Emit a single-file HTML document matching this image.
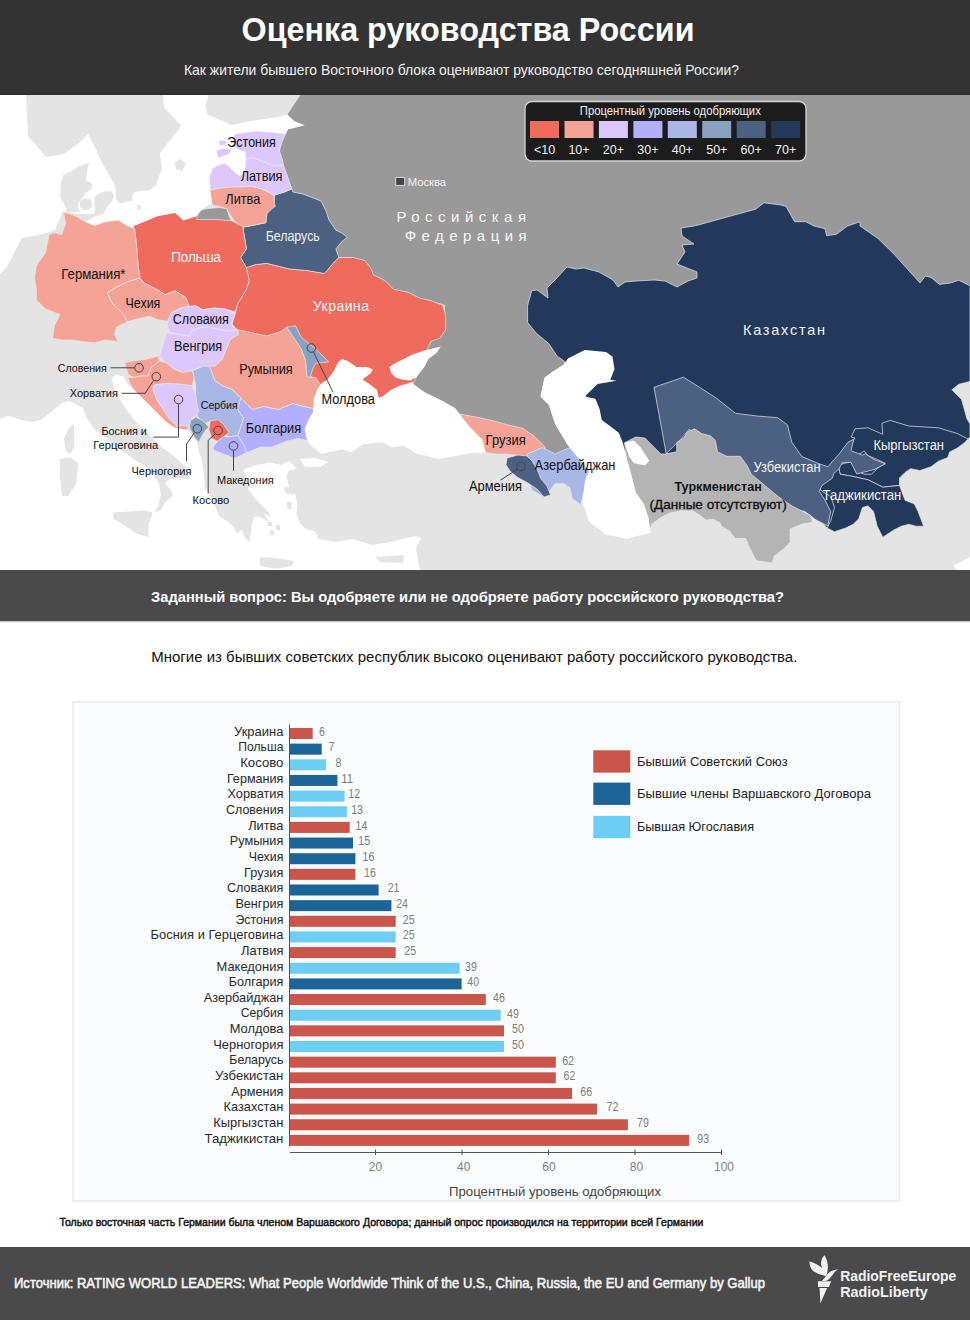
<!DOCTYPE html>
<html><head><meta charset="utf-8"><title>Оценка руководства России</title>
<style>
html,body{margin:0;padding:0;background:#fff;width:970px;height:1320px;overflow:hidden}
svg{display:block}
text{font-family:"Liberation Sans",sans-serif}
</style></head><body>
<svg width="970" height="1320" viewBox="0 0 970 1320">
<rect x="0" y="0" width="970" height="95" fill="#333333"/>
<rect x="0" y="93.5" width="970" height="1.5" fill="#2e2e2e"/>
<text x="241.5" y="40.5" font-family="Liberation Sans" font-size="32.3" fill="#ffffff" font-weight="bold" textLength="453" lengthAdjust="spacingAndGlyphs">Оценка руководства России</text>
<text x="184" y="75" font-family="Liberation Sans" font-size="14.8" fill="#f0f0f0" textLength="555" lengthAdjust="spacingAndGlyphs">Как жители бывшего Восточного блока оценивают руководство сегодняшней России?</text>
<rect x="0" y="95" width="970" height="475" fill="#e4e4e4"/>
<polygon points="300.5,95.0 970.0,95.0 970.0,330.0 560.0,330.0 575.0,455.0 540.0,455.0 460.0,416.0 410.0,392.0 418.0,350.0 445.0,330.0 445.0,305.0 431.0,300.8 419.6,298.0 408.0,292.2 393.6,289.3 385.0,280.6 373.4,274.8 370.5,267.6 364.8,260.4 353.2,257.5 338.8,257.5 335.9,248.9 341.7,241.7 347.4,237.3 341.7,233.0 335.9,230.1 329.0,220.0 326.0,211.0 321.0,201.0 303.0,194.0 293.0,192.0 291.8,188.9 289.7,182.7 285.6,171.4 283.5,165.2 282.5,160.0 279.4,150.8 281.4,143.6 285.6,133.8 288.0,129.6 287.5,114.5" fill="#999999"/>
<polygon points="246.4,267.6 255.0,264.7 266.6,263.3 289.7,269.0 307.0,270.5 324.3,273.4 327.2,270.5 333.0,263.3 338.8,257.5 353.2,257.5 364.8,260.4 370.5,267.6 373.4,274.8 385.0,280.6 393.6,289.3 408.0,292.2 419.6,298.0 431.2,300.8 442.7,305.2 445.6,315.3 445.6,329.7 439.8,338.4 431.2,341.2 428.3,347.0 425.0,355.0 416.0,378.0 413.0,383.0 400.0,392.0 380.0,400.0 330.0,395.0 318.0,392.0 312.0,378.0 300.0,360.0 285.0,340.0 265.0,338.0 246.0,334.0 236.9,329.6 232.0,324.0 234.8,315.3 237.7,303.7 246.4,289.3 249.3,280.6" fill="#ee6b5d" stroke="#e8e8e8" stroke-width="0.7" stroke-linejoin="round"/>
<polygon points="243.0,226.0 244.2,227.0 255.1,224.9 265.9,222.7 265.9,211.9 272.4,205.4 274.2,202.3 274.2,195.1 284.5,192.0 291.8,188.9 293.0,192.0 303.0,194.0 321.0,201.0 326.0,211.0 329.0,220.0 335.9,230.1 341.7,233.0 347.4,237.3 341.7,241.7 335.9,248.9 338.8,257.5 333.0,263.3 327.2,270.5 324.3,273.4 307.0,270.5 289.7,269.0 266.6,263.3 255.0,264.7 246.4,267.6 240.6,257.5 246.4,248.9 243.5,231.5" fill="#4c6081" stroke="#e8e8e8" stroke-width="0.7" stroke-linejoin="round"/>
<polygon points="134.5,229.1 131.6,222.0 157.6,212.0 175.0,209.0 196.6,212.0 213.9,215.0 231.2,220.6 237.7,223.8 243.0,226.0 243.5,231.5 246.4,248.9 240.6,257.5 246.4,267.6 249.3,280.6 246.4,289.3 237.7,303.7 234.8,312.0 225.4,309.0 213.8,308.1 202.3,309.8 195.7,305.7 189.1,306.5 185.6,297.3 175.0,290.9 165.0,294.7 157.0,289.6 144.3,283.0 140.0,278.2 138.2,267.3 136.4,243.6" fill="#ee6b5d" stroke="#e8e8e8" stroke-width="0.7" stroke-linejoin="round"/>
<polygon points="63.6,212.7 69.1,213.6 76.4,216.4 85.5,221.8 94.5,225.5 105.5,221.8 118.2,220.0 127.3,225.5 134.5,229.1 136.4,243.6 138.2,267.3 140.0,278.2 127.3,281.8 116.4,287.3 107.3,292.7 112.7,303.6 123.6,314.5 127.3,321.8 116.4,327.3 114.5,334.5 118.2,341.8 105.5,340.0 94.5,342.7 83.6,341.8 72.7,340.0 61.8,340.0 52.7,338.2 54.5,325.5 60.0,314.5 45.5,309.1 36.4,300.0 36.4,289.1 34.5,278.2 36.4,265.5 45.5,252.7 49.1,234.5 54.5,232.7 61.8,234.5 65.5,223.6" fill="#f4a396" stroke="#e8e8e8" stroke-width="0.7" stroke-linejoin="round"/>
<polygon points="107.3,292.7 116.4,287.3 127.3,281.8 140.0,278.2 144.3,283.0 157.0,289.6 165.0,294.7 175.0,290.9 185.6,297.3 189.1,306.5 180.8,308.1 170.9,313.1 167.6,321.3 157.7,319.7 149.5,316.4 141.2,318.0 131.4,320.5 127.3,321.8 123.6,314.5 112.7,303.6" fill="#f4a396" stroke="#e8e8e8" stroke-width="0.7" stroke-linejoin="round"/>
<polygon points="167.6,321.3 170.9,313.1 180.8,308.1 189.1,306.5 195.7,305.7 202.3,309.8 213.8,308.1 225.4,309.0 234.8,314.0 232.0,321.3 232.0,326.3 236.9,329.6 228.7,331.2 218.8,329.6 208.9,327.1 199.0,327.9 192.4,330.4 189.1,336.2 179.2,334.5 170.9,332.9 167.6,327.9" fill="#dcc7fe" stroke="#e8e8e8" stroke-width="0.7" stroke-linejoin="round"/>
<polygon points="167.6,332.9 179.2,334.5 189.1,336.2 192.4,330.4 199.0,327.9 208.9,327.1 218.8,329.6 228.7,331.2 236.9,329.6 238.6,334.5 230.3,339.5 227.0,347.7 222.1,359.3 215.5,365.9 207.2,367.5 199.0,367.5 192.4,370.8 182.5,372.5 174.2,369.2 166.0,362.6 159.4,356.0 162.7,346.1 164.3,339.5" fill="#dcc7fe" stroke="#e8e8e8" stroke-width="0.7" stroke-linejoin="round"/>
<polygon points="236.9,329.6 246.4,331.5 266.6,335.9 281.0,331.5 286.8,327.2 295.5,340.2 301.2,348.9 305.6,360.4 307.0,376.3 315.7,377.7 321.5,386.4 318.0,392.2 317.0,409.5 304.1,406.6 292.6,403.7 278.2,409.5 263.7,406.6 252.2,409.5 246.4,403.7 240.6,398.0 237.7,395.0 232.0,389.3 223.3,386.4 214.6,380.6 211.8,372.0 208.9,366.2 215.5,365.9 222.1,359.3 227.0,347.7 230.3,339.5 238.6,334.5" fill="#f4a396" stroke="#e8e8e8" stroke-width="0.7" stroke-linejoin="round"/>
<polygon points="286.8,327.2 295.5,325.8 301.2,337.3 315.7,348.9 324.3,357.5 328.7,361.9 315.7,363.3 312.8,369.0 309.9,377.7 307.0,376.3 305.6,360.4 301.2,348.9 295.5,340.2" fill="#8aa2c1" stroke="#e8e8e8" stroke-width="0.7" stroke-linejoin="round"/>
<polygon points="240.6,398.0 246.4,403.7 252.2,409.5 263.7,406.6 278.2,409.5 292.6,403.7 304.1,406.6 317.0,409.5 314.0,418.2 309.0,426.8 306.0,435.5 310.0,441.2 298.4,438.4 286.8,441.2 272.4,447.0 260.8,447.0 246.4,452.8 243.5,444.1 237.7,435.5 240.6,426.8 243.5,418.2 237.7,409.5" fill="#b1affe" stroke="#e8e8e8" stroke-width="0.7" stroke-linejoin="round"/>
<polygon points="192.4,370.8 203.1,366.2 208.9,366.2 211.8,372.0 214.6,380.6 223.3,386.4 232.0,389.3 240.6,398.0 237.7,409.5 243.5,418.2 240.6,426.8 237.7,435.5 229.1,436.9 223.3,432.6 217.5,422.0 210.3,421.0 204.0,424.0 197.3,416.0 195.7,405.5 195.7,395.6 195.7,385.7 194.0,377.4" fill="#a9b7e7" stroke="#e8e8e8" stroke-width="0.7" stroke-linejoin="round"/>
<polygon points="210.3,421.0 217.5,419.6 223.3,423.9 229.1,432.6 223.3,436.9 217.5,441.2 211.8,438.4 208.9,429.7" fill="#ee6b5d" stroke="#e8e8e8" stroke-width="0.7" stroke-linejoin="round"/>
<polygon points="217.5,441.2 223.3,436.9 229.1,436.9 237.7,435.5 243.5,444.1 246.4,452.8 234.8,458.6 223.3,461.5 214.6,455.7 213.2,447.0" fill="#b1affe" stroke="#e8e8e8" stroke-width="0.7" stroke-linejoin="round"/>
<polygon points="189.1,426.9 190.7,420.3 195.7,417.0 202.3,420.3 208.9,426.9 205.6,430.2 202.3,435.2 199.0,441.8 194.0,436.8" fill="#8aa2c1" stroke="#e8e8e8" stroke-width="0.7" stroke-linejoin="round"/>
<polygon points="152.8,389.0 154.4,384.8 166.0,383.2 179.2,384.0 192.4,385.7 195.7,395.6 197.3,405.5 199.0,412.1 195.7,415.4 190.7,420.3 189.1,426.9 182.5,425.3 177.5,426.9 169.3,418.7 162.7,408.8 156.1,398.9" fill="#dcc7fe" stroke="#e8e8e8" stroke-width="0.7" stroke-linejoin="round"/>
<polygon points="151.1,367.5 159.4,360.9 166.0,362.6 174.2,369.2 182.5,372.5 192.4,370.8 194.0,377.4 192.4,385.7 179.2,384.0 166.0,383.2 154.4,384.8 152.8,389.0 156.1,398.9 162.7,408.8 169.3,418.7 177.5,426.9 182.5,425.3 189.1,426.9 186.0,430.0 175.0,428.0 166.0,422.0 156.1,412.1 147.8,403.8 139.6,395.6 133.0,389.0 129.7,382.4 128.0,377.4 133.0,377.4 141.2,375.8 147.8,375.8" fill="#f4a396" stroke="#e8e8e8" stroke-width="0.7" stroke-linejoin="round"/>
<polygon points="124.7,362.6 133.0,360.9 146.2,359.3 157.7,356.0 159.4,360.9 151.1,367.5 147.8,375.8 141.2,375.8 133.0,377.4 128.0,374.1 126.4,367.5" fill="#f4a396" stroke="#e8e8e8" stroke-width="0.7" stroke-linejoin="round"/>
<polygon points="210.3,190.0 220.6,187.9 231.0,186.9 241.2,186.9 251.5,186.3 261.9,188.9 274.2,195.1 274.2,202.3 275.3,206.4 272.2,208.5 267.0,213.7 265.9,222.7 255.1,224.9 244.2,227.0 237.7,223.8 233.4,219.5 229.1,213.0 226.9,208.7 213.9,205.4 207.0,201.1 207.0,190.3" fill="#f4a396" stroke="#e8e8e8" stroke-width="0.7" stroke-linejoin="round"/>
<polygon points="212.4,168.3 218.6,165.2 224.7,163.1 228.9,166.2 234.0,171.4 239.2,175.5 244.3,173.5 245.4,164.2 245.4,159.0 253.6,157.5 261.9,161.1 272.2,165.2 283.5,165.2 285.6,171.4 289.7,182.7 291.8,188.9 284.5,192.0 274.2,195.1 261.9,188.9 251.5,186.3 241.2,186.9 231.0,186.9 220.6,187.9 210.3,190.0 209.3,178.6" fill="#dcc7fe" stroke="#e8e8e8" stroke-width="0.7" stroke-linejoin="round"/>
<polygon points="234.0,135.3 235.0,134.3 243.3,132.7 256.7,131.2 272.2,132.2 285.6,133.8 281.4,143.6 279.4,150.8 282.5,160.0 283.5,165.2 272.2,165.2 261.9,161.1 253.6,157.5 245.4,159.0 245.4,151.8 237.0,148.7 234.0,145.6 233.0,140.5" fill="#dcc7fe" stroke="#e8e8e8" stroke-width="0.7" stroke-linejoin="round"/>
<polygon points="198.0,210.5 207.4,208.5 220.4,207.5 226.9,209.0 229.1,216.2 231.2,220.6 213.9,219.5 196.6,219.5" fill="#999999" stroke="#e8e8e8" stroke-width="0.7" stroke-linejoin="round"/>
<polygon points="455.0,412.0 459.6,414.1 476.0,417.0 493.0,420.8 508.0,425.0 522.7,428.3 534.0,436.0 545.0,446.8 545.0,454.2 530.0,458.0 518.0,455.5 507.9,454.2 496.0,454.0 485.6,452.4 481.9,439.4 470.7,428.3" fill="#f4a396" stroke="#e8e8e8" stroke-width="0.7" stroke-linejoin="round"/>
<polygon points="527.6,453.9 542.4,447.5 555.1,453.9 570.0,447.5 578.5,458.2 589.1,465.0 596.0,466.0 598.0,469.0 592.0,472.5 587.0,475.1 584.8,487.8 580.6,504.8 572.1,498.4 570.0,487.8 563.6,483.6 555.1,483.6 548.8,492.1 542.4,496.3 531.8,490.0 527.6,475.1 525.5,464.5" fill="#a9b7e7" stroke="#e8e8e8" stroke-width="0.7" stroke-linejoin="round"/>
<polygon points="507.0,458.0 518.0,455.0 527.0,456.0 532.0,461.0 537.0,469.0 541.0,479.0 547.0,486.0 550.5,495.0 544.0,497.0 537.0,489.0 528.0,483.0 517.0,477.0 510.0,471.0 506.0,465.0" fill="#4c6081" stroke="#e8e8e8" stroke-width="0.7" stroke-linejoin="round"/>
<polygon points="531.8,290.6 537.0,290.0 548.0,298.0 547.0,288.0 555.0,280.0 567.0,267.0 576.0,269.0 584.0,268.0 599.0,272.0 613.0,280.0 618.0,287.0 625.0,282.0 636.0,281.0 654.0,280.0 665.0,281.0 677.0,287.0 688.0,281.0 697.0,278.0 697.0,272.0 677.0,264.0 685.0,252.0 682.0,245.0 694.0,244.0 682.0,236.0 681.0,228.0 694.0,226.0 700.0,224.5 725.0,217.6 755.7,209.2 764.0,202.8 780.7,205.0 786.0,206.4 794.6,221.7 805.8,221.7 814.0,226.0 825.0,228.7 826.6,235.7 836.4,234.3 847.5,226.0 860.0,221.7 860.0,226.0 878.0,238.4 894.8,255.0 920.0,283.0 925.4,276.0 931.0,277.4 939.4,284.4 950.5,283.0 958.8,280.2 970.0,285.8 970.0,381.5 958.8,384.3 951.9,389.8 961.6,399.6 967.0,419.0 970.0,424.0 970.0,437.1 964.4,442.7 957.0,448.2 949.6,452.0 947.7,457.5 938.4,461.2 931.0,466.8 919.9,470.5 910.6,468.7 905.0,472.4 899.5,477.9 899.5,485.4 905.0,500.2 914.3,503.9 918.0,511.3 923.6,526.2 916.2,526.2 908.8,524.3 901.3,526.2 893.9,529.9 882.8,537.3 877.2,526.2 873.5,511.3 867.9,505.8 862.4,507.6 858.7,518.8 853.1,524.3 845.7,528.0 834.5,531.7 827.1,528.0 812.0,510.0 700.0,458.0 650.0,458.0 620.0,452.0 600.0,420.0 563.6,360.6 557.3,356.4 548.8,343.6 536.0,333.0 527.6,322.4 527.6,305.5" fill="#22395c" stroke="#e8e8e8" stroke-width="0.7" stroke-linejoin="round"/>
<polygon points="851.2,437.1 855.0,428.8 868.0,427.8 882.8,434.3 881.9,423.2 890.2,420.4 908.8,426.0 938.4,427.8 957.0,433.4 968.1,439.0 964.4,442.7 957.0,448.2 949.6,452.0 947.7,457.5 938.4,461.2 931.0,466.8 919.9,470.5 910.6,468.7 905.0,472.4 899.5,477.9 899.5,485.4 882.8,487.2 868.0,479.8 851.2,476.1 840.1,474.2 838.2,465.0 845.7,463.1 853.1,461.2 855.0,470.5 864.2,474.2 871.6,474.2 877.2,468.7 884.6,463.1 877.2,459.4 868.0,455.7 864.2,451.0 856.8,455.7 845.7,450.1 855.0,438.0" fill="#22395c" stroke="#e8e8e8" stroke-width="0.7" stroke-linejoin="round"/>
<polygon points="817.8,485.4 821.5,481.6 830.8,476.1 838.2,465.0 840.1,474.2 851.2,476.1 868.0,479.8 882.8,487.2 899.5,485.4 905.0,500.2 914.3,503.9 918.0,511.3 923.6,526.2 916.2,526.2 908.8,524.3 901.3,526.2 893.9,529.9 882.8,537.3 877.2,526.2 873.5,511.3 867.9,505.8 862.4,507.6 858.7,518.8 853.1,524.3 845.7,528.0 834.5,531.7 827.1,528.0 830.8,520.6 834.5,507.6 830.8,496.5 821.5,491.0" fill="#22395c" stroke="#e8e8e8" stroke-width="0.7" stroke-linejoin="round"/>
<polygon points="654.0,387.3 683.5,377.2 715.3,397.4 735.5,413.3 758.6,416.2 777.3,417.6 787.4,424.8 791.8,442.2 801.9,456.6 819.2,463.8 827.8,466.7 839.4,453.7 848.0,442.2 853.8,439.3 851.0,450.8 862.5,455.2 865.4,453.7 874.0,459.5 885.6,463.8 874.0,469.6 856.7,473.9 851.0,462.4 842.3,462.4 839.4,468.2 833.6,473.9 832.2,478.3 822.0,485.5 819.2,491.2 825.0,500.0 830.7,511.5 827.8,525.9 816.3,520.1 804.8,511.5 790.3,508.6 770.1,497.0 755.7,485.5 744.1,468.2 735.5,459.5 715.3,453.7 692.2,433.5 689.3,429.2 680.6,439.3 666.2,453.7" fill="#4c6081" stroke="#e8e8e8" stroke-width="0.7" stroke-linejoin="round"/>
<polygon points="624.5,442.7 635.9,437.0 645.0,438.1 654.0,447.2 660.8,454.0 665.4,454.0 676.7,451.8 676.7,442.7 683.5,438.1 688.0,431.3 694.8,429.0 701.7,433.6 710.7,435.9 715.3,440.4 717.5,451.8 726.6,456.3 740.2,456.3 747.0,465.4 751.5,474.4 765.2,485.8 778.8,497.1 792.4,506.2 810.5,515.3 812.8,522.1 801.4,524.3 790.1,528.9 790.1,542.5 783.3,549.3 774.2,556.1 772.0,562.9 756.1,560.6 749.3,547.0 745.7,538.5 735.2,538.5 729.6,531.1 722.2,526.8 719.7,522.4 712.9,519.3 706.0,520.0 699.3,515.0 692.6,510.7 681.2,510.7 669.9,513.0 660.8,517.5 651.8,524.3 649.5,531.1 640.0,520.0 630.0,490.0" fill="#b4b4b4" stroke="#e8e8e8" stroke-width="0.7" stroke-linejoin="round"/>
<polygon points="0.0,95.0 26.0,95.0 27.0,115.0 28.0,136.0 46.0,157.0 64.0,154.0 80.0,142.0 88.0,134.0 96.4,150.0 100.5,160.3 107.7,172.7 113.9,183.0 116.0,191.2 116.0,199.5 120.1,203.6 118.0,212.0 100.0,214.0 80.0,214.0 66.5,211.9 63.0,211.0 55.0,230.0 44.0,234.0 22.0,238.0 14.0,253.0 7.0,267.0 0.0,274.0" fill="#ffffff"/>
<polygon points="163.0,95.0 164.1,108.0 175.0,118.8 181.4,125.3 177.1,131.8 166.3,144.8 159.8,153.5 162.0,168.6 155.5,186.0 150.0,190.2 137.6,191.2 132.5,193.3 132.5,200.5 120.1,203.6 116.0,199.5 116.0,191.2 113.0,196.0 112.0,212.0 100.0,214.0 92.0,218.0 85.5,221.8 94.5,225.5 105.5,221.8 118.2,220.0 127.3,225.5 131.6,227.0 157.6,216.2 175.0,213.0 183.6,220.6 196.6,216.2 200.9,210.8 207.4,205.4 212.4,203.4 211.3,197.2 210.3,190.0 209.3,178.6 212.4,168.3 218.6,165.2 224.7,163.1 228.9,166.2 234.0,171.4 239.2,175.5 244.3,173.5 245.4,164.2 245.4,159.0 245.4,151.8 237.0,148.7 234.0,145.6 233.0,140.5 234.0,135.3 235.0,134.3 243.3,132.7 256.7,131.2 272.2,132.2 285.6,133.8 288.0,129.6 296.2,127.5 304.8,125.3 294.0,121.0 287.5,114.5 281.0,116.6 265.9,118.8 250.7,121.0 231.2,125.3 222.6,121.0 207.4,114.5 205.3,105.8 208.5,95.0" fill="#ffffff"/>
<polygon points="0.0,418.8 8.2,415.7 20.6,419.8 33.0,421.9 41.2,419.8 51.5,411.5 61.9,403.3 68.0,401.2 111.3,378.6 115.5,374.4 123.7,376.5 127.8,384.7 133.0,389.0 139.6,395.6 147.8,403.8 156.1,412.1 166.0,422.0 175.0,428.0 186.0,430.0 190.7,433.0 194.0,437.8 198.0,444.0 199.0,452.0 201.3,458.0 203.0,468.0 204.6,480.0 205.0,492.0 213.0,480.0 230.0,470.0 243.2,469.7 256.9,464.7 269.2,462.3 281.6,464.7 289.0,461.0 296.4,468.5 289.0,471.0 286.5,475.9 289.0,487.0 295.2,494.4 297.7,504.3 296.4,514.2 300.2,524.1 306.3,529.1 315.0,531.5 319.0,539.0 334.7,542.0 353.0,539.0 371.8,545.0 390.0,542.0 415.0,536.0 421.0,538.0 416.0,548.0 418.0,560.0 420.0,570.0 0.0,570.0" fill="#ffffff"/>
<polygon points="317.1,389.8 321.2,383.6 327.4,379.5 333.6,371.2 337.7,363.0 341.9,358.9 348.0,360.9 356.3,367.1 366.6,367.1 372.8,369.2 370.7,373.3 362.5,379.5 368.7,383.6 376.9,389.8 379.0,398.0 383.1,396.0 391.3,389.8 399.6,385.7 407.8,383.6 412.0,381.5 414.0,384.6 424.3,391.9 440.8,400.1 455.0,408.0 459.6,414.1 470.7,428.3 481.9,439.4 485.6,452.4 470.0,453.1 455.6,456.0 438.3,458.9 415.2,453.1 403.7,445.5 392.0,447.3 383.1,442.4 374.8,443.0 362.5,444.4 351.7,452.0 341.9,449.6 321.2,453.7 311.0,445.5 306.8,439.3 304.7,429.0 308.9,418.7 313.0,412.5 314.0,398.0" fill="#ffffff"/>
<polygon points="389.3,367.1 395.5,363.0 403.7,358.9 412.0,354.7 424.3,350.6 432.6,348.6 440.8,346.5 436.7,352.7 428.5,358.9 424.3,367.1 416.1,377.4 409.9,380.5 401.6,379.5 395.5,377.4 391.3,373.3" fill="#ffffff"/>
<polygon points="567.9,358.5 584.8,350.0 606.0,352.1 612.4,356.4 614.5,369.0 610.3,379.7 616.6,380.7 597.6,383.9 584.8,396.6 595.4,398.8 599.7,409.4 601.8,420.0 610.3,426.3 618.8,432.7 623.0,443.3 627.3,460.3 631.5,475.1 635.7,492.1 644.2,504.8 648.5,517.5 650.6,532.4 627.3,538.7 606.0,534.5 589.1,521.8 582.7,502.7 584.8,481.5 589.1,470.9 580.6,460.3 567.9,445.4 555.1,424.2 548.8,405.1 540.3,396.6 544.5,377.6 553.0,371.2 563.6,364.8" fill="#ffffff"/>
<polygon points="624.5,442.7 633.6,440.4 640.4,447.2 649.5,460.8 645.0,465.4 633.6,463.1 629.1,456.3" fill="#ffffff"/>
<polygon points="300.0,459.0 315.0,458.0 328.0,462.0 320.0,467.0 305.0,467.0" fill="#ffffff"/>
<polygon points="953.0,566.0 970.0,557.0 970.0,570.0 958.0,570.0" fill="#ffffff"/>
<polygon points="216.5,150.5 224.0,148.5 231.0,149.7 229.0,154.0 222.0,156.0 218.6,158.0" fill="#dcc7fe"/>
<polygon points="218.6,141.0 225.0,140.5 226.8,144.0 220.0,145.6" fill="#dcc7fe"/>
<polygon points="61.9,401.2 68.0,400.2 82.5,407.4 86.6,417.7 94.8,430.1 107.2,438.4 115.5,446.6 127.8,454.8 136.0,461.0 144.3,465.2 152.6,473.4 158.8,483.7 160.8,494.0 158.8,504.3 154.6,512.6 160.8,510.5 165.0,502.3 173.2,496.1 171.0,489.9 165.0,483.7 169.0,479.6 179.4,477.5 189.7,479.6 185.6,467.2 175.3,456.9 160.8,446.6 148.5,434.2 134.0,419.8 123.7,405.4 115.5,391.0 111.3,378.6 115.5,374.4 123.7,376.5 124.7,362.6 60.0,380.0" fill="#e4e4e4"/>
<polygon points="113.4,512.6 144.3,510.5 152.6,512.6 148.5,525.0 148.5,537.3 136.0,533.2 123.7,525.0 113.4,518.8" fill="#e4e4e4"/>
<polygon points="59.8,459.0 70.1,456.9 78.4,463.1 76.3,483.7 68.0,496.1 61.9,496.1 59.8,475.5" fill="#e4e4e4"/>
<polygon points="70.1,426.0 74.2,423.9 74.2,446.6 70.1,454.8 66.0,450.7 63.9,438.4" fill="#e4e4e4"/>
<polygon points="205.0,458.0 214.0,450.0 235.0,458.0 246.0,453.0 261.0,447.0 272.0,447.0 287.0,441.0 298.0,440.0 300.0,452.0 296.4,462.0 289.0,461.0 281.6,464.7 269.2,462.3 256.9,464.7 243.2,469.7 247.0,480.8 248.2,489.5 254.4,496.9 260.6,506.8 264.3,514.2 269.2,521.7 259.3,516.7 254.4,516.7 251.9,524.1 250.7,534.0 249.4,542.7 244.5,536.5 242.0,529.1 237.1,534.0 233.4,526.6 227.0,521.0 219.7,516.7 217.3,511.8 213.6,501.9 207.4,492.0 204.9,483.3 208.0,468.0" fill="#e4e4e4"/>
<polygon points="249.4,495.7 256.0,500.0 265.0,508.0 271.7,516.7 266.0,515.0 255.0,506.0 250.0,500.0" fill="#e4e4e4"/>
<polygon points="284.0,487.0 294.0,487.5 294.0,494.4 286.0,494.0" fill="#e4e4e4"/>
<polygon points="286.5,502.0 291.5,502.0 291.5,509.3 287.0,509.0" fill="#e4e4e4"/>
<polygon points="268.0,522.0 272.0,522.0 272.0,526.0 268.0,526.0" fill="#e4e4e4"/>
<polygon points="276.0,525.0 280.0,525.0 280.0,530.0 276.0,530.0" fill="#e4e4e4"/>
<polygon points="270.0,530.0 274.0,530.0 274.0,535.0 270.0,535.0" fill="#e4e4e4"/>
<polygon points="259.3,557.5 275.0,558.0 294.0,561.0 292.0,566.0 275.0,568.7 260.0,566.0" fill="#e4e4e4"/>
<polygon points="375.0,557.0 404.0,555.0 403.0,563.0 380.0,562.0" fill="#e4e4e4"/>
<polygon points="175.0,162.0 181.0,159.0 186.0,164.0 182.0,171.0 176.0,169.0" fill="#e4e4e4"/>
<polygon points="94.3,197.4 99.5,193.3 104.6,191.2 110.8,191.2 113.9,195.4 111.9,201.5 107.7,205.7 105.7,210.8 102.6,215.0 95.4,216.0 94.3,210.8 95.4,209.8 94.3,203.6" fill="#e4e4e4"/>
<polygon points="79.9,200.5 85.0,198.5 91.2,199.5 92.3,205.7 89.2,209.8 83.0,209.8 79.9,206.7" fill="#e4e4e4"/>
<polygon points="61.3,181.0 63.4,174.7 70.6,171.6 78.9,166.5 89.2,162.4 87.1,170.6 86.1,179.9 92.3,184.0 91.2,189.2 85.0,193.3 83.0,197.4 78.9,201.5 77.8,207.7 80.9,211.9 66.5,211.9 65.5,205.7 60.3,197.4 60.3,189.2" fill="#e4e4e4"/>
<polygon points="136.6,205.0 140.0,204.6 141.8,208.0 138.0,209.8" fill="#e4e4e4"/>
<rect x="525" y="101.5" width="281" height="59.5" rx="7" fill="#1c1c1c" stroke="#d4d4d4" stroke-width="1.3"/>
<text x="579.8" y="115" font-family="Liberation Sans" font-size="12" fill="#f0f0f0" textLength="181" lengthAdjust="spacingAndGlyphs">Процентный уровень одобряющих</text>
<rect x="530.0" y="121" width="29" height="17" fill="#ee6b5d"/>
<text x="544.5" y="154" font-family="Liberation Sans" font-size="12.5" fill="#f2f2f2" text-anchor="middle">&lt;10</text>
<rect x="564.5" y="121" width="29" height="17" fill="#f4a396"/>
<text x="579.0" y="154" font-family="Liberation Sans" font-size="12.5" fill="#f2f2f2" text-anchor="middle">10+</text>
<rect x="598.9" y="121" width="29" height="17" fill="#dcc7fe"/>
<text x="613.4" y="154" font-family="Liberation Sans" font-size="12.5" fill="#f2f2f2" text-anchor="middle">20+</text>
<rect x="633.4" y="121" width="29" height="17" fill="#b1affe"/>
<text x="647.9" y="154" font-family="Liberation Sans" font-size="12.5" fill="#f2f2f2" text-anchor="middle">30+</text>
<rect x="667.8" y="121" width="29" height="17" fill="#a9b7e7"/>
<text x="682.3" y="154" font-family="Liberation Sans" font-size="12.5" fill="#f2f2f2" text-anchor="middle">40+</text>
<rect x="702.2" y="121" width="29" height="17" fill="#8aa2c1"/>
<text x="716.8" y="154" font-family="Liberation Sans" font-size="12.5" fill="#f2f2f2" text-anchor="middle">50+</text>
<rect x="736.7" y="121" width="29" height="17" fill="#4c6081"/>
<text x="751.2" y="154" font-family="Liberation Sans" font-size="12.5" fill="#f2f2f2" text-anchor="middle">60+</text>
<rect x="771.2" y="121" width="29" height="17" fill="#22395c"/>
<text x="785.7" y="154" font-family="Liberation Sans" font-size="12.5" fill="#f2f2f2" text-anchor="middle">70+</text>
<rect x="395.7" y="177.4" width="9" height="8" fill="#444" stroke="#d8d8d8" stroke-width="1"/>
<text x="407.7" y="186" font-family="Liberation Sans" font-size="11" fill="#f2f2f2" textLength="38.3" lengthAdjust="spacingAndGlyphs">Москва</text>
<text x="396.5" y="221.9" font-family="Liberation Sans" font-size="15" fill="#f8f8f8" textLength="129.5" lengthAdjust="spacing">Российская</text>
<text x="404.7" y="240.8" font-family="Liberation Sans" font-size="15" fill="#f8f8f8" textLength="122" lengthAdjust="spacing">Федерация</text>
<text x="743" y="335.2" font-family="Liberation Sans" font-size="14.5" fill="#f4f4f4" textLength="82" lengthAdjust="spacing">Казахстан</text>
<text x="227.3" y="146.6" font-family="Liberation Sans" font-size="13.8" fill="#111" textLength="48.5" lengthAdjust="spacingAndGlyphs">Эстония</text>
<text x="240.7" y="180.7" font-family="Liberation Sans" font-size="13.8" fill="#111" textLength="41.8" lengthAdjust="spacingAndGlyphs">Латвия</text>
<text x="225.3" y="204.4" font-family="Liberation Sans" font-size="13.8" fill="#111" textLength="35" lengthAdjust="spacingAndGlyphs">Литва</text>
<text x="265.7" y="240.6" font-family="Liberation Sans" font-size="14" fill="#f4f4f4" textLength="54.1" lengthAdjust="spacingAndGlyphs">Беларусь</text>
<text x="170.9" y="262" font-family="Liberation Sans" font-size="14" fill="#f4f4f4" textLength="50.2" lengthAdjust="spacing">Польша</text>
<text x="61.3" y="278.8" font-family="Liberation Sans" font-size="14" fill="#111" textLength="64.2" lengthAdjust="spacingAndGlyphs">Германия*</text>
<text x="125.5" y="307.6" font-family="Liberation Sans" font-size="14" fill="#111" textLength="34.8" lengthAdjust="spacingAndGlyphs">Чехия</text>
<text x="172.7" y="324.4" font-family="Liberation Sans" font-size="14" fill="#111" textLength="56.2" lengthAdjust="spacingAndGlyphs">Словакия</text>
<text x="174" y="351.4" font-family="Liberation Sans" font-size="14" fill="#111" textLength="48.2" lengthAdjust="spacingAndGlyphs">Венгрия</text>
<text x="312.8" y="311" font-family="Liberation Sans" font-size="14" fill="#f4f4f4" textLength="56.3" lengthAdjust="spacing">Украина</text>
<text x="239.2" y="374.3" font-family="Liberation Sans" font-size="14" fill="#111" textLength="53.4" lengthAdjust="spacingAndGlyphs">Румыния</text>
<text x="200.8" y="408.9" font-family="Liberation Sans" font-size="11.5" fill="#111" textLength="36.9" lengthAdjust="spacingAndGlyphs">Сербия</text>
<text x="245.8" y="432.6" font-family="Liberation Sans" font-size="14" fill="#111" textLength="55.4" lengthAdjust="spacingAndGlyphs">Болгария</text>
<text x="321.5" y="403.7" font-family="Liberation Sans" font-size="14" fill="#111" textLength="53.4" lengthAdjust="spacingAndGlyphs">Молдова</text>
<text x="485.6" y="445" font-family="Liberation Sans" font-size="14" fill="#111" textLength="40.1" lengthAdjust="spacingAndGlyphs">Грузия</text>
<text x="534.6" y="470.2" font-family="Liberation Sans" font-size="14" fill="#111" textLength="80.9" lengthAdjust="spacingAndGlyphs">Азербайджан</text>
<text x="468.9" y="490.6" font-family="Liberation Sans" font-size="14" fill="#111" textLength="53.1" lengthAdjust="spacingAndGlyphs">Армения</text>
<text x="753.4" y="471.6" font-family="Liberation Sans" font-size="14" fill="#f4f4f4" textLength="67.2" lengthAdjust="spacingAndGlyphs">Узбекистан</text>
<text x="873.5" y="450.1" font-family="Liberation Sans" font-size="14" fill="#f4f4f4" textLength="70.5" lengthAdjust="spacingAndGlyphs">Кыргызстан</text>
<text x="822.5" y="500.2" font-family="Liberation Sans" font-size="14" fill="#f4f4f4" textLength="78.8" lengthAdjust="spacingAndGlyphs">Таджикистан</text>
<text x="674.4" y="491" font-family="Liberation Sans" font-size="13.4" fill="#111" font-weight="bold" textLength="87.4" lengthAdjust="spacingAndGlyphs">Туркменистан</text>
<g stroke="#111" stroke-width="0.35"><text x="649.5" y="508.5" font-family="Liberation Sans" font-size="13.6" fill="#111" textLength="137.2" lengthAdjust="spacingAndGlyphs">(Данные отсутствуют)</text></g>
<text x="57.8" y="371.5" font-family="Liberation Sans" font-size="11" fill="#111" textLength="49" lengthAdjust="spacingAndGlyphs">Словения</text>
<text x="69.7" y="396.5" font-family="Liberation Sans" font-size="11" fill="#111" textLength="48.3" lengthAdjust="spacingAndGlyphs">Хорватия</text>
<text x="101.4" y="434.8" font-family="Liberation Sans" font-size="11" fill="#111" textLength="45.5" lengthAdjust="spacingAndGlyphs">Босния и</text>
<text x="93.2" y="449.3" font-family="Liberation Sans" font-size="11" fill="#111" textLength="65.1" lengthAdjust="spacingAndGlyphs">Герцеговина</text>
<text x="131.5" y="475.3" font-family="Liberation Sans" font-size="11" fill="#111" textLength="59.9" lengthAdjust="spacingAndGlyphs">Черногория</text>
<text x="216.9" y="483.5" font-family="Liberation Sans" font-size="11" fill="#111" textLength="56.9" lengthAdjust="spacingAndGlyphs">Македония</text>
<text x="192.6" y="503.5" font-family="Liberation Sans" font-size="11" fill="#111" textLength="36.7" lengthAdjust="spacingAndGlyphs">Косово</text>
<polyline points="110.5,367.8 134.5,367.8" stroke="#444" stroke-width="1" fill="none"/>
<polyline points="121.6,393.3 145.1,393.3 153.5,380.5" stroke="#444" stroke-width="1" fill="none"/>
<polyline points="153.3,437.1 178.5,437.1 178.5,404.2" stroke="#444" stroke-width="1" fill="none"/>
<polyline points="186.5,461.3 186.5,444 194.5,432.5" stroke="#444" stroke-width="1" fill="none"/>
<polyline points="208.2,493.5 208.2,440.3 215,434" stroke="#444" stroke-width="1" fill="none"/>
<polyline points="233.5,470.7 233.5,450.5" stroke="#444" stroke-width="1" fill="none"/>
<polyline points="313.5,352 333,392.2" stroke="#444" stroke-width="1" fill="none"/>
<polyline points="500.4,480.2 517.5,469" stroke="#444" stroke-width="1" fill="none"/>
<circle cx="139" cy="367.8" r="4.3" stroke="#444" stroke-width="1" fill="none"/>
<circle cx="156.3" cy="376.7" r="4.3" stroke="#444" stroke-width="1" fill="none"/>
<circle cx="178.5" cy="399.5" r="4.3" stroke="#444" stroke-width="1" fill="none"/>
<circle cx="197.3" cy="428.7" r="4.3" stroke="#444" stroke-width="1" fill="none"/>
<circle cx="218.1" cy="430.4" r="4.3" stroke="#444" stroke-width="1" fill="none"/>
<circle cx="233.5" cy="446" r="4.3" stroke="#444" stroke-width="1" fill="none"/>
<circle cx="311.4" cy="348" r="4.3" stroke="#444" stroke-width="1" fill="none"/>
<circle cx="520.9" cy="466.5" r="4.3" stroke="#444" stroke-width="1" fill="none"/>
<rect x="0" y="570" width="970" height="51.5" fill="#4a4a4a"/>
<rect x="0" y="621.5" width="970" height="1.5" fill="#ececec"/>
<text x="151" y="601.5" font-family="Liberation Sans" font-size="14.7" fill="#ffffff" font-weight="bold" textLength="633" lengthAdjust="spacingAndGlyphs">Заданный вопрос: Вы одобряете или не одобряете работу российского руководства?</text>
<text x="151.3" y="661.6" font-family="Liberation Sans" font-size="14.7" fill="#111" textLength="646" lengthAdjust="spacingAndGlyphs">Многие из бывших советских республик высоко оценивают работу российского руководства.</text>
<rect x="73" y="702" width="826.5" height="499" fill="#fbfcfd" stroke="#eeefef" stroke-width="2"/>
<rect x="290" y="728.00" width="22.7" height="11" fill="#c9554b"/>
<text x="283.4" y="735.7" font-family="Liberation Sans" font-size="13.4" fill="#2a2a2a" text-anchor="end" textLength="49.4" lengthAdjust="spacingAndGlyphs">Украина</text>
<text x="318.9" y="735.8" font-family="Liberation Sans" font-size="12.5" fill="#7c7c7c" textLength="5.9" lengthAdjust="spacingAndGlyphs">6</text>
<rect x="290" y="743.65" width="31.7" height="11" fill="#1d6496"/>
<text x="283.4" y="751.4" font-family="Liberation Sans" font-size="13.4" fill="#2a2a2a" text-anchor="end" textLength="45.1" lengthAdjust="spacingAndGlyphs">Польша</text>
<text x="328.4" y="751.4" font-family="Liberation Sans" font-size="12.5" fill="#7c7c7c" textLength="5.9" lengthAdjust="spacingAndGlyphs">7</text>
<rect x="290" y="759.30" width="36.0" height="11" fill="#6dcdf5"/>
<text x="283.4" y="767.0" font-family="Liberation Sans" font-size="13.4" fill="#2a2a2a" text-anchor="end" textLength="43.2" lengthAdjust="spacingAndGlyphs">Косово</text>
<text x="335.5" y="767.1" font-family="Liberation Sans" font-size="12.5" fill="#7c7c7c" textLength="5.9" lengthAdjust="spacingAndGlyphs">8</text>
<rect x="290" y="774.95" width="47.4" height="11" fill="#1d6496"/>
<text x="283.4" y="782.7" font-family="Liberation Sans" font-size="13.4" fill="#2a2a2a" text-anchor="end" textLength="56.5" lengthAdjust="spacingAndGlyphs">Германия</text>
<text x="341.2" y="782.8" font-family="Liberation Sans" font-size="12.5" fill="#7c7c7c" textLength="11.8" lengthAdjust="spacingAndGlyphs">11</text>
<rect x="290" y="790.60" width="54.5" height="11" fill="#6dcdf5"/>
<text x="283.4" y="798.3" font-family="Liberation Sans" font-size="13.4" fill="#2a2a2a" text-anchor="end" textLength="56.0" lengthAdjust="spacingAndGlyphs">Хорватия</text>
<text x="348.3" y="798.4" font-family="Liberation Sans" font-size="12.5" fill="#7c7c7c" textLength="11.8" lengthAdjust="spacingAndGlyphs">12</text>
<rect x="290" y="806.25" width="56.9" height="11" fill="#6dcdf5"/>
<text x="283.4" y="814.0" font-family="Liberation Sans" font-size="13.4" fill="#2a2a2a" text-anchor="end" textLength="57.4" lengthAdjust="spacingAndGlyphs">Словения</text>
<text x="351.2" y="814.0" font-family="Liberation Sans" font-size="12.5" fill="#7c7c7c" textLength="11.8" lengthAdjust="spacingAndGlyphs">13</text>
<rect x="290" y="821.90" width="59.7" height="11" fill="#c9554b"/>
<text x="283.4" y="829.6" font-family="Liberation Sans" font-size="13.4" fill="#2a2a2a" text-anchor="end" textLength="35.2" lengthAdjust="spacingAndGlyphs">Литва</text>
<text x="355.5" y="829.7" font-family="Liberation Sans" font-size="12.5" fill="#7c7c7c" textLength="11.8" lengthAdjust="spacingAndGlyphs">14</text>
<rect x="290" y="837.55" width="63.0" height="11" fill="#1d6496"/>
<text x="283.4" y="845.2" font-family="Liberation Sans" font-size="13.4" fill="#2a2a2a" text-anchor="end" textLength="53.7" lengthAdjust="spacingAndGlyphs">Румыния</text>
<text x="358.3" y="845.3" font-family="Liberation Sans" font-size="12.5" fill="#7c7c7c" textLength="11.8" lengthAdjust="spacingAndGlyphs">15</text>
<rect x="290" y="853.20" width="65.4" height="11" fill="#1d6496"/>
<text x="283.4" y="860.9" font-family="Liberation Sans" font-size="13.4" fill="#2a2a2a" text-anchor="end" textLength="34.7" lengthAdjust="spacingAndGlyphs">Чехия</text>
<text x="362.5" y="861.0" font-family="Liberation Sans" font-size="12.5" fill="#7c7c7c" textLength="11.8" lengthAdjust="spacingAndGlyphs">16</text>
<rect x="290" y="868.85" width="65.4" height="11" fill="#c9554b"/>
<text x="283.4" y="876.6" font-family="Liberation Sans" font-size="13.4" fill="#2a2a2a" text-anchor="end" textLength="39.4" lengthAdjust="spacingAndGlyphs">Грузия</text>
<text x="364.0" y="876.6" font-family="Liberation Sans" font-size="12.5" fill="#7c7c7c" textLength="11.8" lengthAdjust="spacingAndGlyphs">16</text>
<rect x="290" y="884.50" width="88.6" height="11" fill="#1d6496"/>
<text x="283.4" y="892.2" font-family="Liberation Sans" font-size="13.4" fill="#2a2a2a" text-anchor="end" textLength="56.5" lengthAdjust="spacingAndGlyphs">Словакия</text>
<text x="387.7" y="892.3" font-family="Liberation Sans" font-size="12.5" fill="#7c7c7c" textLength="11.8" lengthAdjust="spacingAndGlyphs">21</text>
<rect x="290" y="900.15" width="101.4" height="11" fill="#1d6496"/>
<text x="283.4" y="907.9" font-family="Liberation Sans" font-size="13.4" fill="#2a2a2a" text-anchor="end" textLength="48.0" lengthAdjust="spacingAndGlyphs">Венгрия</text>
<text x="396.2" y="907.9" font-family="Liberation Sans" font-size="12.5" fill="#7c7c7c" textLength="11.8" lengthAdjust="spacingAndGlyphs">24</text>
<rect x="290" y="915.80" width="105.7" height="11" fill="#c9554b"/>
<text x="283.4" y="923.5" font-family="Liberation Sans" font-size="13.4" fill="#2a2a2a" text-anchor="end" textLength="48.0" lengthAdjust="spacingAndGlyphs">Эстония</text>
<text x="402.8" y="923.6" font-family="Liberation Sans" font-size="12.5" fill="#7c7c7c" textLength="11.8" lengthAdjust="spacingAndGlyphs">25</text>
<rect x="290" y="931.45" width="105.7" height="11" fill="#6dcdf5"/>
<text x="283.4" y="939.2" font-family="Liberation Sans" font-size="13.4" fill="#2a2a2a" text-anchor="end" textLength="132.8" lengthAdjust="spacingAndGlyphs">Босния и Герцеговина</text>
<text x="402.8" y="939.2" font-family="Liberation Sans" font-size="12.5" fill="#7c7c7c" textLength="11.8" lengthAdjust="spacingAndGlyphs">25</text>
<rect x="290" y="947.10" width="105.7" height="11" fill="#c9554b"/>
<text x="283.4" y="954.8" font-family="Liberation Sans" font-size="13.4" fill="#2a2a2a" text-anchor="end" textLength="42.3" lengthAdjust="spacingAndGlyphs">Латвия</text>
<text x="404.3" y="954.9" font-family="Liberation Sans" font-size="12.5" fill="#7c7c7c" textLength="11.8" lengthAdjust="spacingAndGlyphs">25</text>
<rect x="290" y="962.75" width="169.7" height="11" fill="#6dcdf5"/>
<text x="283.4" y="970.5" font-family="Liberation Sans" font-size="13.4" fill="#2a2a2a" text-anchor="end" textLength="66.9" lengthAdjust="spacingAndGlyphs">Македония</text>
<text x="465.0" y="970.5" font-family="Liberation Sans" font-size="12.5" fill="#7c7c7c" textLength="11.8" lengthAdjust="spacingAndGlyphs">39</text>
<rect x="290" y="978.40" width="171.6" height="11" fill="#1d6496"/>
<text x="283.4" y="986.1" font-family="Liberation Sans" font-size="13.4" fill="#2a2a2a" text-anchor="end" textLength="54.6" lengthAdjust="spacingAndGlyphs">Болгария</text>
<text x="467.3" y="986.2" font-family="Liberation Sans" font-size="12.5" fill="#7c7c7c" textLength="11.8" lengthAdjust="spacingAndGlyphs">40</text>
<rect x="290" y="994.05" width="195.8" height="11" fill="#c9554b"/>
<text x="283.4" y="1001.8" font-family="Liberation Sans" font-size="13.4" fill="#2a2a2a" text-anchor="end" textLength="79.7" lengthAdjust="spacingAndGlyphs">Азербайджан</text>
<text x="493.0" y="1001.8" font-family="Liberation Sans" font-size="12.5" fill="#7c7c7c" textLength="11.8" lengthAdjust="spacingAndGlyphs">46</text>
<rect x="290" y="1009.70" width="210.7" height="11" fill="#6dcdf5"/>
<text x="283.4" y="1017.4" font-family="Liberation Sans" font-size="13.4" fill="#2a2a2a" text-anchor="end" textLength="42.7" lengthAdjust="spacingAndGlyphs">Сербия</text>
<text x="507.0" y="1017.5" font-family="Liberation Sans" font-size="12.5" fill="#7c7c7c" textLength="11.8" lengthAdjust="spacingAndGlyphs">49</text>
<rect x="290" y="1025.35" width="214.0" height="11" fill="#c9554b"/>
<text x="283.4" y="1033.0" font-family="Liberation Sans" font-size="13.4" fill="#2a2a2a" text-anchor="end" textLength="53.7" lengthAdjust="spacingAndGlyphs">Молдова</text>
<text x="512.1" y="1033.1" font-family="Liberation Sans" font-size="12.5" fill="#7c7c7c" textLength="11.8" lengthAdjust="spacingAndGlyphs">50</text>
<rect x="290" y="1041.00" width="214.0" height="11" fill="#6dcdf5"/>
<text x="283.4" y="1048.7" font-family="Liberation Sans" font-size="13.4" fill="#2a2a2a" text-anchor="end" textLength="70.2" lengthAdjust="spacingAndGlyphs">Черногория</text>
<text x="512.1" y="1048.8" font-family="Liberation Sans" font-size="12.5" fill="#7c7c7c" textLength="11.8" lengthAdjust="spacingAndGlyphs">50</text>
<rect x="290" y="1056.65" width="265.8" height="11" fill="#c9554b"/>
<text x="283.4" y="1064.4" font-family="Liberation Sans" font-size="13.4" fill="#2a2a2a" text-anchor="end" textLength="54.1" lengthAdjust="spacingAndGlyphs">Беларусь</text>
<text x="562.2" y="1064.5" font-family="Liberation Sans" font-size="12.5" fill="#7c7c7c" textLength="11.8" lengthAdjust="spacingAndGlyphs">62</text>
<rect x="290" y="1072.30" width="265.8" height="11" fill="#c9554b"/>
<text x="283.4" y="1080.0" font-family="Liberation Sans" font-size="13.4" fill="#2a2a2a" text-anchor="end" textLength="68.4" lengthAdjust="spacingAndGlyphs">Узбекистан</text>
<text x="563.5" y="1080.1" font-family="Liberation Sans" font-size="12.5" fill="#7c7c7c" textLength="11.8" lengthAdjust="spacingAndGlyphs">62</text>
<rect x="290" y="1087.95" width="282.1" height="11" fill="#c9554b"/>
<text x="283.4" y="1095.7" font-family="Liberation Sans" font-size="13.4" fill="#2a2a2a" text-anchor="end" textLength="52.2" lengthAdjust="spacingAndGlyphs">Армения</text>
<text x="580.3" y="1095.8" font-family="Liberation Sans" font-size="12.5" fill="#7c7c7c" textLength="11.8" lengthAdjust="spacingAndGlyphs">66</text>
<rect x="290" y="1103.60" width="307.0" height="11" fill="#c9554b"/>
<text x="283.4" y="1111.3" font-family="Liberation Sans" font-size="13.4" fill="#2a2a2a" text-anchor="end" textLength="59.8" lengthAdjust="spacingAndGlyphs">Казахстан</text>
<text x="606.6" y="1111.4" font-family="Liberation Sans" font-size="12.5" fill="#7c7c7c" textLength="11.8" lengthAdjust="spacingAndGlyphs">72</text>
<rect x="290" y="1119.25" width="337.9" height="11" fill="#c9554b"/>
<text x="283.4" y="1127.0" font-family="Liberation Sans" font-size="13.4" fill="#2a2a2a" text-anchor="end" textLength="70.2" lengthAdjust="spacingAndGlyphs">Кыргызстан</text>
<text x="637.0" y="1127.0" font-family="Liberation Sans" font-size="12.5" fill="#7c7c7c" textLength="11.8" lengthAdjust="spacingAndGlyphs">79</text>
<rect x="290" y="1134.90" width="399.1" height="11" fill="#c9554b"/>
<text x="283.4" y="1142.6" font-family="Liberation Sans" font-size="13.4" fill="#2a2a2a" text-anchor="end" textLength="78.8" lengthAdjust="spacingAndGlyphs">Таджикистан</text>
<text x="697.3" y="1142.7" font-family="Liberation Sans" font-size="12.5" fill="#7c7c7c" textLength="11.8" lengthAdjust="spacingAndGlyphs">93</text>
<line x1="289.5" y1="724.5" x2="289.5" y2="1146.5" stroke="#555" stroke-width="1"/>
<line x1="290" y1="1152.5" x2="722" y2="1152.5" stroke="#555" stroke-width="1"/>
<line x1="375.5" y1="1149.5" x2="375.5" y2="1155" stroke="#555" stroke-width="1"/>
<text x="375.4" y="1171" font-family="Liberation Sans" font-size="12" fill="#808080" text-anchor="middle">20</text>
<line x1="462" y1="1149.5" x2="462" y2="1155" stroke="#555" stroke-width="1"/>
<text x="463.8" y="1171" font-family="Liberation Sans" font-size="12" fill="#808080" text-anchor="middle">40</text>
<line x1="548.5" y1="1149.5" x2="548.5" y2="1155" stroke="#555" stroke-width="1"/>
<text x="548.9" y="1171" font-family="Liberation Sans" font-size="12" fill="#808080" text-anchor="middle">60</text>
<line x1="635" y1="1149.5" x2="635" y2="1155" stroke="#555" stroke-width="1"/>
<text x="636.4" y="1171" font-family="Liberation Sans" font-size="12" fill="#808080" text-anchor="middle">80</text>
<line x1="721.5" y1="1149.5" x2="721.5" y2="1155" stroke="#555" stroke-width="1"/>
<text x="724" y="1171" font-family="Liberation Sans" font-size="12" fill="#808080" text-anchor="middle">100</text>
<text x="555" y="1195.5" font-family="Liberation Sans" font-size="13" fill="#444" text-anchor="middle" textLength="212" lengthAdjust="spacingAndGlyphs">Процентный уровень одобряющих</text>
<rect x="593.3" y="750.3" width="37" height="22.3" fill="#c9554b"/>
<text x="637" y="765.8" font-family="Liberation Sans" font-size="13.3" fill="#222" textLength="150.7" lengthAdjust="spacingAndGlyphs">Бывший Советский Союз</text>
<rect x="593.3" y="782.6" width="37" height="22.3" fill="#1d6496"/>
<text x="637" y="798.1" font-family="Liberation Sans" font-size="13.3" fill="#222" textLength="234" lengthAdjust="spacingAndGlyphs">Бывшие члены Варшавского Договора</text>
<rect x="593.3" y="815.9" width="37" height="22.3" fill="#6dcdf5"/>
<text x="637" y="831.4" font-family="Liberation Sans" font-size="13.3" fill="#222" textLength="117" lengthAdjust="spacingAndGlyphs">Бывшая Югославия</text>
<g stroke="#111" stroke-width="0.45"><text x="59.4" y="1226.4" font-family="Liberation Sans" font-size="10.7" fill="#111" textLength="644" lengthAdjust="spacingAndGlyphs">Только восточная часть Германии была членом Варшавского Договора; данный опрос производился на территории всей Германии</text></g>
<rect x="0" y="1247" width="970" height="73" fill="#4a4a4a"/>
<g stroke="#f4f4f4" stroke-width="0.55"><text x="14" y="1288" font-family="Liberation Sans" font-size="13.9" fill="#f4f4f4" textLength="751" lengthAdjust="spacingAndGlyphs">Источник: RATING WORLD LEADERS: What People Worldwide Think of the U.S., China, Russia, the EU and Germany by Gallup</text></g>
<g fill="#f2f2f2">
<path d="M809.3,1261.3 Q818,1264 824.5,1270 Q826.5,1273 825.8,1276 Q819,1275 813,1271 Q809.5,1267 809.3,1261.3 Z"/>
<path d="M824.7,1255.2 Q828.5,1262 827.8,1268 Q827.5,1273 826.3,1276 Q822,1270 821,1264 Q821,1258 824.7,1255.2 Z"/>
<path d="M838.1,1269.3 Q831,1270 827.5,1274 Q824,1279 821.8,1281 L826,1281 Q830,1279 832.5,1275 Q835,1271 838.1,1269.3 Z"/>
<path d="M818,1281.2 L831.2,1281.2 L828.9,1287.1 L818,1287.1 Z"/>
<path d="M819.6,1287.9 L827.1,1287.9 L820.4,1303.4 Z"/>
</g>
<text x="840.2" y="1281.3" font-family="Liberation Sans" font-size="14.1" fill="#f2f2f2" font-weight="bold" textLength="116" lengthAdjust="spacingAndGlyphs">RadioFreeEurope</text>
<text x="840.2" y="1297.4" font-family="Liberation Sans" font-size="14.1" fill="#f2f2f2" font-weight="bold" textLength="87.6" lengthAdjust="spacingAndGlyphs">RadioLiberty</text>
</svg>
</body></html>
